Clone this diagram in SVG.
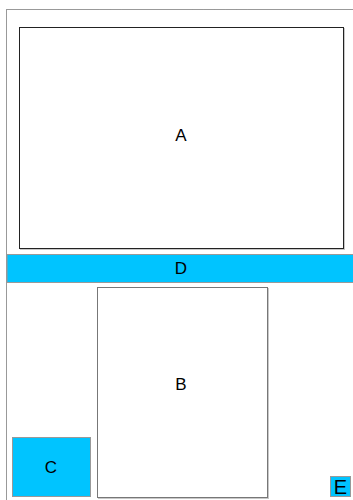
<svg xmlns="http://www.w3.org/2000/svg" width="353" height="500" viewBox="0 0 353 500">
<style>
.lbl{font-family:"Liberation Sans",Arial,sans-serif;font-size:17px;fill:#000;text-anchor:middle;dominant-baseline:central}
.cyan{fill:#00C4FF;stroke:#999;stroke-width:1}
.shadow{fill:none;stroke:#c8c8c8;stroke-width:1}
</style>
<rect width="353" height="500" fill="#fff"/>
<g id="frame">
<rect x="6.5" y="9.5" width="360" height="520" fill="none" stroke="#333" stroke-width="1" stroke-dasharray="1,1"/>
</g>
<g id="connectors"></g>
<g id="A">
<rect x="20.5" y="28.5" width="324" height="221" class="shadow"/>
<rect x="19.5" y="27.5" width="324" height="221" fill="#fff" stroke="#222" stroke-width="1"/>
<text class="lbl" x="181" y="135">A</text>
</g>
<g id="D">
<rect x="7" y="254.5" width="360" height="28" class="cyan"/>
<text class="lbl" x="181" y="268.5">D</text>
</g>
<g id="B">
<rect x="98.5" y="288.5" width="170" height="210" class="shadow"/>
<rect x="97.5" y="287.5" width="170" height="210" fill="#fff" stroke="#777" stroke-width="1"/>
<text class="lbl" x="181" y="384">B</text>
</g>
<g id="C">
<rect x="12.5" y="437.5" width="78" height="59" class="cyan"/>
<text class="lbl" x="51" y="467">C</text>
</g>
<g id="E">
<rect x="330.5" y="476.5" width="20" height="20" class="cyan"/>
<text class="lbl" x="340.5" y="487" style="font-size:20px">E</text>
</g>
</svg>
